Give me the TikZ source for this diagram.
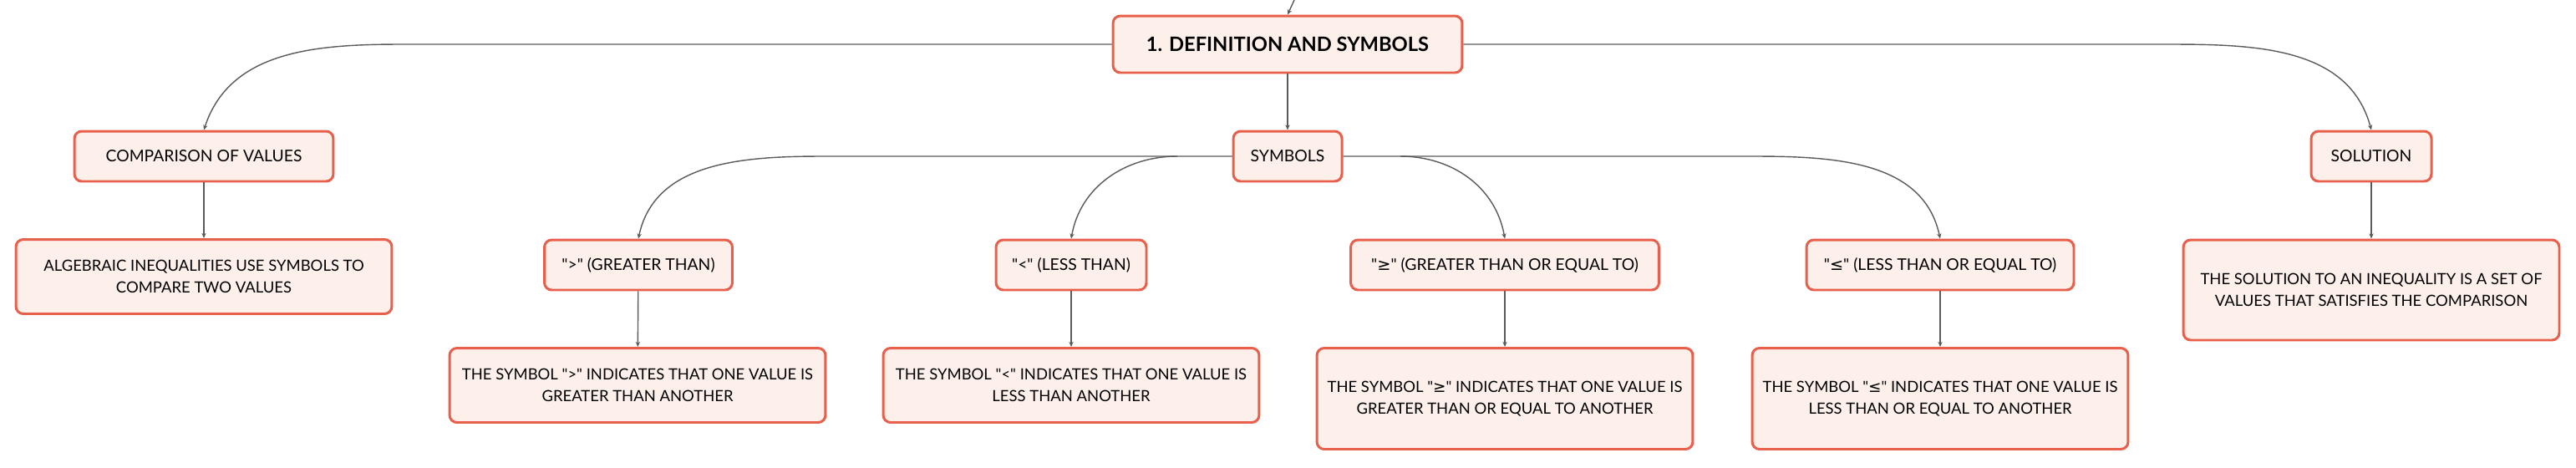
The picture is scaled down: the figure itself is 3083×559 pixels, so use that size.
\documentclass[tikz,border=0pt]{standalone}
\usepackage{fontspec}
\setmainfont{Lato}[Ligatures=TeXOff]
\newfontfamily\symfont{DejaVu Sans}
\usepackage{tikz}
\usetikzlibrary{arrows.meta}
\definecolor{boxline}{HTML}{E8604C}
\definecolor{boxfill}{HTML}{FDF0EB}
\definecolor{linkgray}{HTML}{5A5A5A}
\newcommand{\geqsym}{{\symfont ≥}}
\newcommand{\leqsym}{{\symfont ≤}}

\begin{document}
\begin{tikzpicture}[x=0.02cm,y=0.02cm,
		box/.style={draw=boxline,fill=boxfill,line width=1.7pt,rounded corners=5pt,
			align=center,inner sep=0pt,minimum height=1.2cm,
			font=\fontsize{11}{14}\selectfont},
		desc/.style={box,minimum width=9cm,minimum height=1.78cm,
			font=\fontsize{10.5}{15}\selectfont}]
		\useasboundingbox (0,0) rectangle (3083,-559);

		\begin{scope}[every node/.style={box}]
			\node (root) [minimum width=8.36cm,minimum height=1.36cm,
				font=\fontsize{13.5}{16}\selectfont\bfseries] at (1541,-53) {1. DEFINITION AND SYMBOLS};

			\node (comp) [minimum width=6.2cm] at (244,-187) {COMPARISON OF VALUES};
			\node (sym) [minimum width=2.6cm] at (1541,-187) {SYMBOLS};
			\node (sol) [minimum width=2.88cm] at (2838,-187) {SOLUTION};

			\node (gt) [minimum width=4.5cm] at (764,-317) {">" (GREATER THAN)};
			\node (lt) [minimum width=3.6cm] at (1282,-317) {"<" (LESS THAN)};
			\node (ge) [minimum width=7.38cm] at (1801,-317) {"\geqsym" (GREATER THAN OR EQUAL TO)};
			\node (le) [minimum width=6.4cm] at (2322,-317) {"\leqsym" (LESS THAN OR EQUAL TO)};

			\node (compd) [desc] at (244,-331) {ALGEBRAIC INEQUALITIES USE SYMBOLS TO\\COMPARE TWO VALUES};
			\node (gtd) [desc] at (763,-461) {THE SYMBOL ">" INDICATES THAT ONE VALUE IS\\GREATER THAN ANOTHER};
			\node (ltd) [desc] at (1282,-461) {THE SYMBOL "<" INDICATES THAT ONE VALUE IS\\LESS THAN ANOTHER};
			\node (ged) [desc,minimum height=2.42cm] at (1801,-477) {THE SYMBOL "\geqsym" INDICATES THAT ONE VALUE IS\\GREATER THAN OR EQUAL TO ANOTHER};
			\node (led) [desc,minimum height=2.42cm] at (2322,-477) {THE SYMBOL "\leqsym" INDICATES THAT ONE VALUE IS\\LESS THAN OR EQUAL TO ANOTHER};
			\node (sold) [desc,minimum height=2.4cm] at (2838,-347) {THE SOLUTION TO AN INEQUALITY IS A SET OF\\VALUES THAT SATISFIES THE COMPARISON};
		\end{scope}

		% bends of the branch lines
		\coordinate (up) at (1549,0);
		\coordinate (kcomp) at (483,-53);
		\coordinate (ksol) at (2590,-53);
		\coordinate (kgt) at (987,-187);
		\coordinate (klt) at (1409,-187);
		\coordinate (kge) at (1676,-187);
		\coordinate (kle) at (2095,-187);

		\begin{scope}[>={Stealth[length=3.5pt,width=3pt]},
					  every edge/.style={draw=linkgray,line width=0.8pt}]
			\path [->] (up) edge (root.north);
			\path [->] (root) edge (sym);
			\path [->] (comp) edge (compd);
			\path [->] (sol) edge (sold);
			\path [->] (gt) edge (gtd);
			\path [->] (lt) edge (ltd);
			\path [->] (ge) edge (ged);
			\path [->] (le) edge (led);
		\end{scope}

		\begin{scope}[>={Stealth[length=3.5pt,width=3pt]},draw=linkgray,line width=0.8pt]
			\draw [->] (root.west) -- (kcomp) to[out=180,in=72] (comp.north);
			\draw [->] (root.east) -- (ksol) to[out=0,in=105] (sol.north);
			\draw [->] (sym.west) -- (kgt) to[out=180,in=78] (gt.north);
			\draw [->] (klt) to[out=180,in=80] (lt.north);
			\draw [->] (sym.east) -- (kle) to[out=0,in=102] (le.north);
			\draw [->] (kge) to[out=0,in=100] (ge.north);
		\end{scope}
\end{tikzpicture}
\end{document}
